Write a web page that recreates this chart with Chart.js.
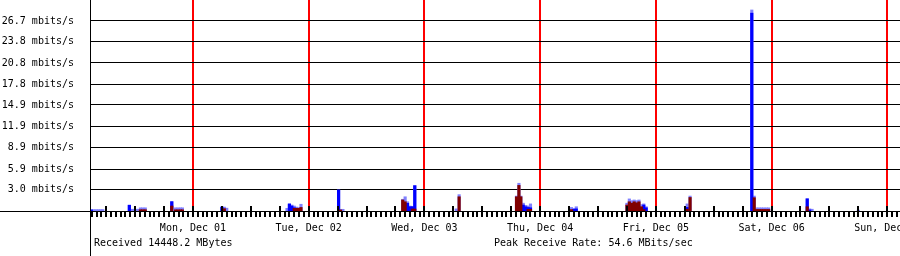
<!DOCTYPE html>
<html><head><meta charset="utf-8">
<script src="https://cdn.jsdelivr.net/npm/chart.js@4"></script>
<style>html,body{margin:0;padding:0;background:#fff;overflow:hidden}canvas{display:block}</style>
</head><body>
<canvas id="c" width="900" height="256"></canvas>
<script>
// x values are hours relative to Mon, Dec 01 00:00
const rangeStartHour = -21.36;
const rangeEndHour = 146.64;
const dayLabels = ['Mon, Dec 01','Tue, Dec 02','Wed, Dec 03','Thu, Dec 04','Fri, Dec 05','Sat, Dec 06','Sun, Dec 07'];
const yTickLabels = ['3.0','5.9','8.9','11.9','14.9','17.8','20.8','23.8','26.7'];
const yUnit = ' mbits/s';
const yAxisMax = 29.65;

// average incoming (dark red), [hour, mbits/s]
const inAvg = [
  [-10.9,0.18],[-10.4,0.18],[-9.9,0.18],
  [-4.4,0.7],
  [-3.6,0.17],[-3.1,0.17],[-2.6,0.17],[-2.2,0.17],
  [6.5,0.33],
  [21.0,0.38],[21.5,0.38],[22.0,0.38],[22.4,0.5],
  [30.6,0.15],
  [43.5,1.55],[44.0,1.3],[45.5,0.28],[46.0,0.28],
  [55.2,2.0],
  [67.1,2.0],[67.6,3.6],[68.0,2.0],[69.5,0.24],[70.0,0.24],
  [78.5,0.2],
  [90.0,0.84],[90.5,1.3],[91.0,1.1],[91.5,1.3],[92.0,1.15],[92.5,1.3],[93.0,0.6],[93.5,0.2],
  [102.5,0.25],[103.1,1.9],
  [116.4,1.87],[116.9,0.22],[117.4,0.22],[117.9,0.22],[118.4,0.22],[118.9,0.22],[119.4,0.22],
  [127.4,0.6]
];
// average outgoing (blue)
const outAvg = [
  [-21.1,0.15],
  [-13.2,0.8],
  [-4.4,1.3],
  [6.0,0.55],
  [20.0,0.94],[20.5,0.7],[21.0,0.46],[21.5,0.35],
  [30.2,2.95],
  [44.5,1.08],[45.0,0.6],[45.5,0.6],[46.0,3.55],
  [68.0,0.4],[68.5,0.84],[69.0,0.6],[69.5,0.5],[70.0,0.45],
  [79.0,0.25],[79.5,0.3],
  [93.0,0.45],[93.5,0.84],[94.0,0.45],
  [102.5,0.5],
  [115.9,27.8],
  [127.4,1.7],[127.9,0.15]
];
// peak (light blue)
const peak = [
  [-21.1,0.2],[-20.6,0.2],[-20.1,0.2],[-19.6,0.2],[-19.1,0.2],[-18.7,0.2],
  [-13.2,0.85],[-12.7,0.25],[-12.2,0.25],[-11.7,0.25],[-11.3,0.25],[-10.9,0.45],[-10.4,0.45],[-9.9,0.45],
  [-4.4,1.35],[-3.6,0.45],[-3.1,0.45],[-2.6,0.45],[-2.2,0.45],
  [6.0,0.55],[6.5,0.55],[7.0,0.4],
  [19.5,0.38],[20.0,1.08],[20.5,0.84],[21.0,0.7],[21.5,0.55],[22.0,0.46],[22.4,0.95],
  [30.2,2.95],[30.7,0.24],[31.1,0.24],
  [43.5,1.65],[44.0,2.0],[44.5,1.3],[45.0,0.7],[45.5,0.65],[46.0,3.6],
  [54.6,0.3],[55.2,2.3],
  [67.1,2.1],[67.6,3.9],[68.0,2.1],[68.5,1.1],[69.0,0.8],[69.5,0.7],[70.0,1.0],
  [78.5,0.5],[79.0,0.35],[79.5,0.6],
  [90.0,1.1],[90.5,1.7],[91.0,1.45],[91.5,1.55],[92.0,1.45],[92.5,1.55],[93.0,0.9],[93.5,1.0],[94.0,0.6],
  [102.5,1.0],[103.1,2.1],
  [115.9,28.25],[116.4,2.1],[116.9,0.45],[117.4,0.45],[117.9,0.45],[118.4,0.45],[118.9,0.45],[119.4,0.45],
  [127.4,1.75],[127.9,0.3],[128.4,0.25],
  [138.0,0.12]
];
const receivedText = 'Received 14448.2 MBytes';
const peakText = 'Peak Receive Rate: 54.6 MBits/sec';

const FONT = {family: '"DejaVu Sans Mono", monospace', size: 10};
const toXY = arr => arr.map(([x, y]) => ({x, y}));

const frame = {
  id: 'frame',
  afterDatasetsDraw(chart) {
    const {ctx, chartArea: a, scales: {x, y}} = chart;
    const base = Math.round(y.getPixelForValue(0));
    ctx.save();
    ctx.fillStyle = '#000';
    for (let h = Math.ceil(x.min / 6) * 6; h <= x.max; h += 6) {
      const px = Math.round(x.getPixelForValue(h));
      ctx.fillRect(px - 1, base - 5, 2, 5);
    }
    ctx.fillRect(0, base, chart.width, 1);
    ctx.fillRect(Math.round(a.left), 0, 1, chart.height);
    ctx.font = '10px "DejaVu Sans Mono", monospace';
    ctx.textBaseline = 'alphabetic';
    ctx.textAlign = 'left';
    ctx.fillText(receivedText, a.left + 4, 246);
    ctx.fillText(peakText, 494, 246);
    ctx.restore();
  }
};

new Chart(document.getElementById('c'), {
  type: 'bar',
  data: {
    datasets: [
      {label: 'in', data: toXY(inAvg), backgroundColor: '#800000', order: 0},
      {label: 'out', data: toXY(outAvg), backgroundColor: '#0000ff', order: 1},
      {label: 'peak', data: toXY(peak), backgroundColor: '#8080ff', order: 2}
    ]
  },
  options: {
    responsive: false,
    animation: false,
    devicePixelRatio: 1,
    layout: {padding: 0},
    datasets: {bar: {grouped: false, barThickness: 2.5, borderWidth: 0}},
    plugins: {legend: {display: false}, tooltip: {enabled: false}, title: {display: false}},
    scales: {
      x: {
        type: 'linear',
        offset: false,
        bounds: 'data',
        min: rangeStartHour,
        max: rangeEndHour,
        afterBuildTicks(s) {
          const t = [];
          for (let h = Math.ceil(s.min); h <= s.max; h++) t.push({value: h});
          s.ticks = t;
        },
        afterFit(s) { s.height = 45; s.paddingLeft = 0; s.paddingRight = 0; },
        border: {display: false},
        grid: {
          offset: false,
          drawTicks: true,
          tickLength: 6,
          tickWidth: 2,
          tickColor: '#000',
          color: '#ff0000',
          lineWidth: c => (c.tick && Math.abs(c.tick.value % 24) === 0) ? 2 : 0
        },
        ticks: {
          autoSkip: false, maxRotation: 0, minRotation: 0, padding: 5,
          color: '#000', font: FONT,
          callback: v => (v % 24 === 0 && v >= 0) ? dayLabels[v / 24] : ''
        }
      },
      y: {
        min: 0,
        max: yAxisMax,
        afterBuildTicks(s) { s.ticks = yTickLabels.map(t => ({value: parseFloat(t)})); },
        afterFit(s) { s.width = 90; s.paddingTop = 0; s.paddingBottom = 0; },
        border: {display: false},
        grid: {color: '#000', lineWidth: 1, drawTicks: false},
        ticks: {
          padding: 16, color: '#000', font: FONT,
          callback: (v, i) => yTickLabels[i] + yUnit
        }
      }
    }
  },
  plugins: [frame]
});
</script>
</body></html>
